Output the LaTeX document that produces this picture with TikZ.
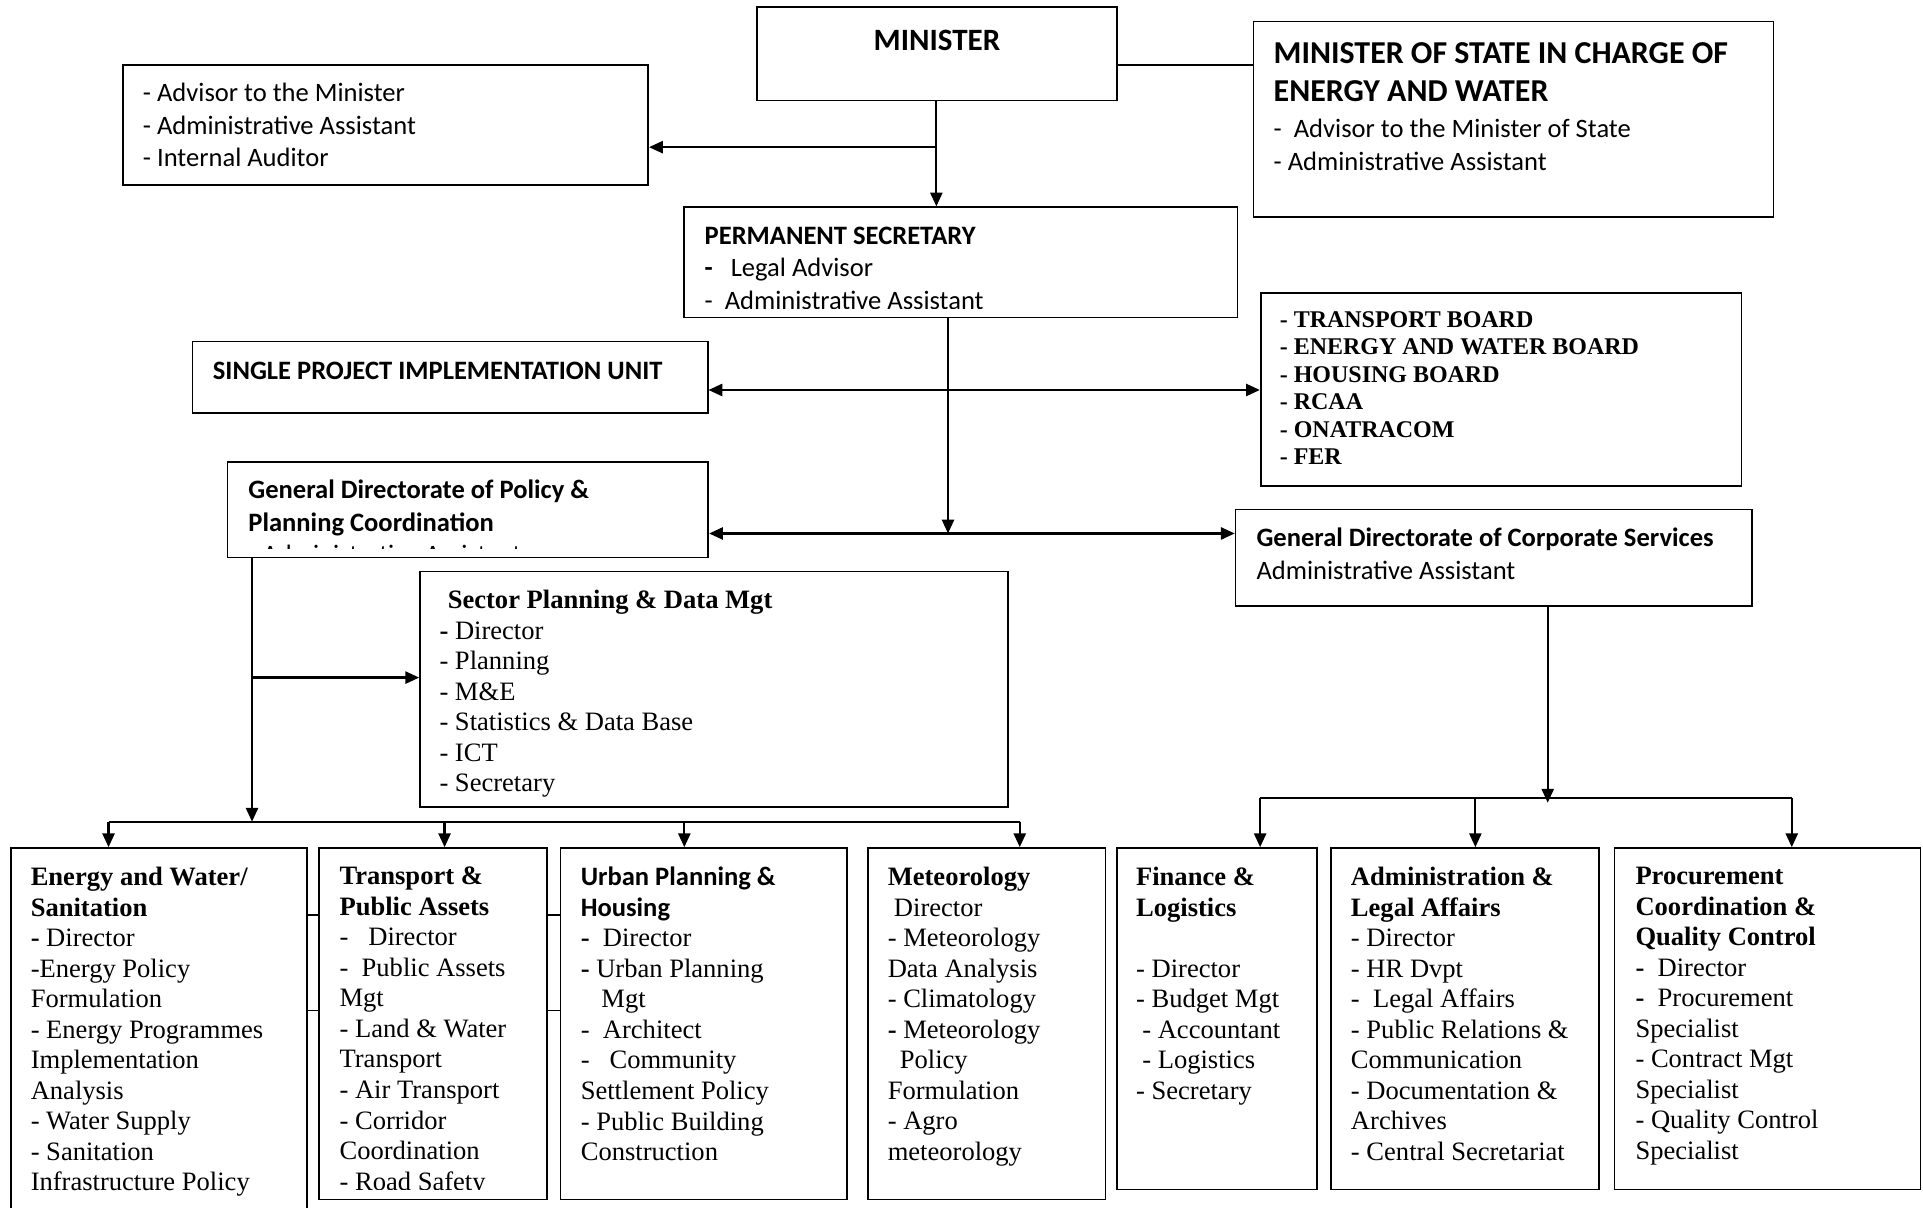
\documentclass[tikz,border=0pt]{standalone}
\usepackage{fontspec}
\setmainfont{Liberation Serif}
\newfontfamily\calibri{Carlito}
\usetikzlibrary{arrows.meta, fit}
\begin{document}
\begin{tikzpicture}[x=0.025cm, y=-0.025cm, >={Triangle[length=8pt, width=7pt]},
  orgbox/.style={draw, line width=1pt, inner sep=0pt},
  link/.style={line width=1.3pt},
  stub/.style={line width=0.7pt},
  unittext/.style={anchor=north west, inner sep=0pt, align=left,
    font=\fontsize{15.4}{17.7}\selectfont, execute at begin node=\strut},
  sanstext/.style={anchor=north west, inner sep=0pt, align=left,
    font=\calibri\fontsize{15.4}{18.85}\selectfont, execute at begin node=\strut},
  titletext/.style={sanstext, font=\calibri\bfseries\fontsize{18.5}{22.2}\selectfont},
  boardtext/.style={unittext, font=\bfseries\fontsize{13.9}{15.93}\selectfont}]
  \useasboundingbox (0,0) rectangle (1568,985);
  \clip (0,0) rectangle (1568,985);
  % upper boxes
  \node (minister) [orgbox, fit={(617,6) (911,82)}] {};
  \node (advisors) [orgbox, fit={(100,53) (528.5,151)}] {};
  \node (mos) [orgbox, fit={(1022,17.5) (1446,177)}] {};
  \node (ps) [orgbox, fit={(558,169) (1009,259)}] {};
  \node (spiu) [orgbox, fit={(157,278.5) (577,337)}] {};
  \node (boards) [orgbox, fit={(1028,239) (1420,396)}] {};
  \node (gdppc) [orgbox, fit={(185.5,376.5) (577.5,454.5)}] {};
  \node (gdcs) [orgbox, fit={(1007.5,415.5) (1428.5,494)}] {};
  \node (spdm) [orgbox, fit={(342.5,466) (822,658)}] {};
  % directorates
  \node (ews) [orgbox, fit={(9,691.5) (250.5,1000)}] {};
  \node (tpa) [orgbox, fit={(260,691.5) (446,978)}] {};
  \node (uph) [orgbox, fit={(457,691.5) (690.5,978)}] {};
  \node (met) [orgbox, fit={(707.5,691.5) (901.5,978)}] {};
  \node (fin) [orgbox, fit={(910.5,691.5) (1074,970)}] {};
  \node (adm) [orgbox, fit={(1085,691.5) (1304,970)}] {};
  \node (proc) [orgbox, fit={(1316.5,691.5) (1566,970)}] {};

  \node (ministerT) [anchor=base, font=\calibri\bfseries\fontsize{18}{22}\selectfont]
        at ([shift={(0,35.5)}]minister.north) {MINISTER};
  \node (advisorsT) [sanstext] at ([shift={(17,15.5)}]advisors.north west)
        {- Advisor to the Minister\\- Administrative Assistant\\- Internal Auditor};
  \node (mosT) [titletext] at ([shift={(17,17.5)}]mos.north west)
        {MINISTER OF STATE IN CHARGE OF\\ENERGY AND WATER};
  \node (mosL) [sanstext] at ([shift={(17,80)}]mos.north west)
        {-\ \ Advisor to the Minister of State\\- Administrative Assistant};
  \begin{scope}
    \clip (ps.north west) rectangle (ps.east |- 0,251.5);
    \node (psT) [sanstext] at ([shift={(17,16.5)}]ps.north west)
          {\textbf{PERMANENT SECRETARY}\\\textbf{-}\ \ \ Legal Advisor\\-\ \ Administrative Assistant};
  \end{scope}
  \node (spiuT) [sanstext] at ([shift={(17,13)}]spiu.north west)
        {\textbf{SINGLE PROJECT IMPLEMENTATION UNIT}};
  \node (boardsT) [boardtext] at ([shift={(16,15.5)}]boards.north west)
        {- TRANSPORT BOARD\\- ENERGY AND WATER BOARD\\- HOUSING BOARD\\- RCAA\\- ONATRACOM\\- FER};
  \begin{scope}
    \clip (gdppc.north west) rectangle (gdppc.east |- 0,447.5);
    \node (gdppcT) [sanstext] at ([shift={(17.5,15.5)}]gdppc.north west)
          {\textbf{General Directorate of Policy \&}\\\textbf{Planning Coordination}\\- Administrative Assistant};
  \end{scope}
  \node (gdcsT) [sanstext] at ([shift={(17.5,15.5)}]gdcs.north west)
        {\textbf{General Directorate of Corporate Services}\\Administrative Assistant};
  \node (spdmT) [unittext] at ([shift={(16.3,15.6)}]spdm.north west)
        {\hspace*{4.8pt}\textbf{Sector Planning \& Data Mgt}\\\textbf{-} Director\\- Planning\\- M\&E\\
         - Statistics \& Data Base\\- ICT\\- Secretary};

  \node (ewsT) [unittext] at ([shift={(16.5,16)}]ews.north west)
        {\textbf{Energy and Water/}\\\textbf{Sanitation}\\\textbf{-} Director\\-Energy Policy\\Formulation\\
         - Energy Programmes\\Implementation\\Analysis\\- Water Supply\\- Sanitation\\Infrastructure Policy};
  \begin{scope}
    \clip (tpa.north west) rectangle (tpa.east |- 0,970);
    \node (tpaT) [unittext] at ([shift={(17.3,16)}]tpa.north west)
          {\textbf{Transport \&}\\\textbf{Public Assets}\\-\ \ \ Director\\-\ \ Public Assets\\Mgt\\
           - Land \& Water\\Transport\\- Air Transport\\- Corridor\\Coordination\\- Road Safety};
  \end{scope}
  \node (uphT) [unittext] at ([shift={(17,16)}]uph.north west)
        {{\calibri\bfseries Urban Planning \&}\\{\calibri\bfseries Housing}\\\textbf{-}\ \ Director\\
         \textbf{-} Urban Planning\\\hspace*{12pt}Mgt\\-\ \ Architect\\-\ \ \ Community\\Settlement Policy\\
         - Public Building\\Construction};
  \node (metT) [unittext] at ([shift={(16.8,16)}]met.north west)
        {\textbf{Meteorology}\\\hspace*{3.6pt}Director\\- Meteorology\\Data Analysis\\- Climatology\\
         \textbf{-} Meteorology\\\hspace*{7pt}Policy\\Formulation\\- Agro\\meteorology};
  \node (finT) [unittext] at ([shift={(16.3,16)}]fin.north west)
        {\textbf{Finance \&}\\\textbf{Logistics}\\\strut\\- Director\\- Budget Mgt\\\hspace*{3.6pt}- Accountant\\
         \hspace*{3.6pt}- Logistics\\- Secretary};
  \node (admT) [unittext] at ([shift={(17,16)}]adm.north west)
        {\textbf{Administration \&}\\\textbf{Legal Affairs}\\- Director\\- HR Dvpt\\-\ \ Legal Affairs\\
         - Public Relations \&\\Communication\\- Documentation \&\\Archives\\- Central Secretariat};
  \node (procT) [unittext] at ([shift={(17.5,16)}]proc.north west)
        {\textbf{Procurement}\\\textbf{Coordination \&}\\\textbf{Quality Control}\\\textbf{-}\ \ Director\\
         \textbf{-}\ \ Procurement\\Specialist\\- Contract Mgt\\Specialist\\- Quality Control\\Specialist};

  % minister links
  \coordinate (mbranch) at (763.5,120);
  \coordinate (mlink) at (911,53);
  \draw [link, ->] (minister.south -| mbranch) -- (ps.north -| mbranch);
  \draw [link, ->] (mbranch) -- (mbranch -| advisors.east);
  \draw [link] (mlink) -- (mlink -| mos.west);
  % permanent secretary links
  \coordinate (hubA) at (773,318);
  \coordinate (hubB) at (773,435);
  \draw [link, ->] (ps.south -| hubB) -- (hubB);
  \draw [link, <->] (spiu.east |- hubA) -- (boards.west |- hubA);
  \draw [link, <->] (gdppc.east |- hubB) -- (gdcs.west |- hubB);
  % policy and planning side
  \coordinate (pbranch) at (205.5,552.5);
  \coordinate (pbus) at (205.5,670);
  \draw [link, ->] (gdppc.south -| pbus) -- (pbus);
  \draw [link, ->] (pbranch) -- (pbranch -| spdm.west);
  \foreach \unit/\x in {ews/88.5, tpa/362.5, uph/558, met/831.5} {
    \coordinate (bus\unit) at (\x,670);
    \draw [link, ->] (bus\unit) -- (bus\unit |- \unit.north);
  }
  \draw [link] (busews) -- (busmet);
  % corporate services side
  \coordinate (cbus) at (1262,650.5);
  \draw [link, ->] (gdcs.south -| cbus) -- ([shift={(0,4)}]cbus);
  \foreach \unit/\x in {fin/1027.5, adm/1203, proc/1461} {
    \coordinate (bus\unit) at (\x,650.5);
    \draw [link, ->] (bus\unit) -- (bus\unit |- \unit.north);
  }
  \draw [link] (busfin) -- (busproc);
  % short rules between the first boxes
  \foreach \y in {746, 824} {
    \draw [stub] (ews.east |- 0,\y) -- (tpa.west |- 0,\y);
    \draw [stub] (tpa.east |- 0,\y) -- (uph.west |- 0,\y);
  }
\end{tikzpicture}
\end{document}
